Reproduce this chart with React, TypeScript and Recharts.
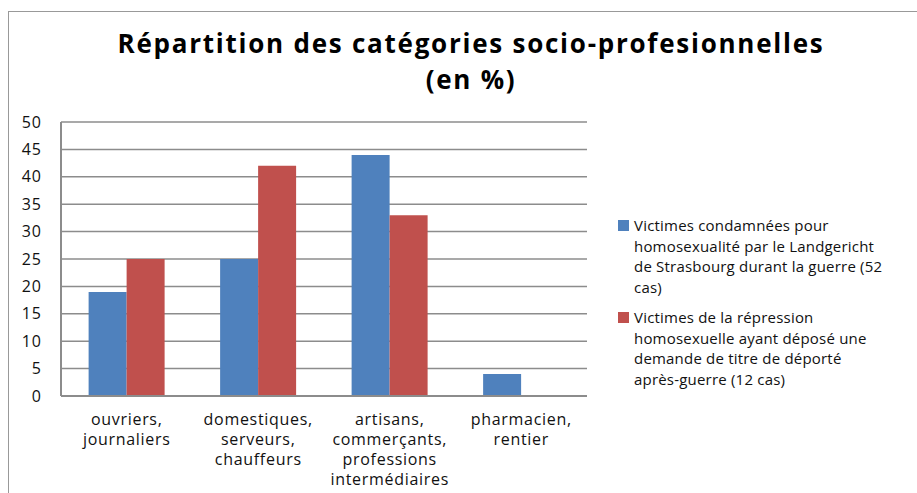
import { Bar, BarChart, CartesianGrid, Legend, XAxis, YAxis } from "recharts";

const FONT = "'Open Sans', sans-serif";

const CATEGORY_LINES = [
  ["ouvriers,", "journaliers"],
  ["domestiques,", "serveurs,", "chauffeurs"],
  ["artisans,", "commerçants,", "professions", "intermédiaires"],
  ["pharmacien,", "rentier"],
];
const CATEGORIES = CATEGORY_LINES.map((l) => l.join(" "));

const LANDGERICHT = [19, 25, 44, 4];
const APRES_GUERRE = [25, 42, 33, 0];

const Y_TICKS = [0, 5, 10, 15, 20, 25, 30, 35, 40, 45, 50];

const SERIES_LINES = [
  [
    "Victimes condamnées pour",
    "homosexualité par le Landgericht",
    "de Strasbourg durant la guerre (52",
    "cas)",
  ],
  [
    "Victimes de la répression",
    "homosexuelle ayant déposé une",
    "demande de titre de déporté",
    "après-guerre (12 cas)",
  ],
];
const SERIES_NAMES = SERIES_LINES.map((l) => l.join(" "));

const data = CATEGORIES.map((name, i) => ({
  name,
  a: LANDGERICHT[i],
  b: APRES_GUERRE[i],
}));

const GRID = "#8c8c8c";

function CategoryTick({ x, y, payload }: { x?: number; y?: number; payload?: { value: string } }) {
  const idx = CATEGORIES.indexOf(payload?.value ?? "");
  const lines = CATEGORY_LINES[idx] ?? [payload?.value ?? ""];
  return (
    <text
      textAnchor="middle"
      fontFamily={FONT}
      fontSize={16}
      letterSpacing={0.7}
      fill="#111"
    >
      {lines.map((line, i) => (
        <tspan key={i} x={x} y={(y ?? 0) + 29 + i * 20}>
          {line}
        </tspan>
      ))}
    </text>
  );
}

function LegendBox({ payload }: { payload?: Array<{ color?: string; value?: string }> }) {
  return (
    <div
      style={{
        fontFamily: FONT,
        fontSize: 15,
        letterSpacing: 0.2,
        lineHeight: "20.5px",
        color: "#111",
      }}
    >
      {(payload ?? []).map((item, i) => {
        const lines = SERIES_LINES[SERIES_NAMES.indexOf(item.value ?? "")] ?? [item.value];
        return (
          <div key={i} style={{ display: "flex", marginBottom: 10 }}>
            <div
              style={{
                width: 11,
                height: 11,
                marginTop: 5,
                marginLeft: 6,
                background: item.color,
                flex: "none",
              }}
            />
            <div style={{ marginLeft: 5, whiteSpace: "nowrap" }}>
              {lines.map((l, j) => (
                <div key={j}>{l}</div>
              ))}
            </div>
          </div>
        );
      })}
    </div>
  );
}

export default function App() {
  return (
    <div
      style={{
        position: "absolute",
        left: 0,
        top: 0,
        width: 917,
        height: 493,
        background: "#fff",
        overflow: "hidden",
      }}
    >
      <div
        style={{
          position: "absolute",
          left: 8,
          top: 11,
          width: 940,
          height: 520,
          borderLeft: "1px solid #999",
          borderTop: "1px solid #999",
        }}
      />
      <div
        style={{
          position: "absolute",
          left: 0,
          top: 25,
          width: 942,
          textAlign: "center",
          fontFamily: FONT,
          fontWeight: 700,
          fontSize: 26,
          letterSpacing: 1.75,
          lineHeight: "36px",
          color: "#000",
        }}
      >
        <div>Répartition des catégories socio-profesionnelles</div>
        <div>(en %)</div>
      </div>
      <BarChart
        width={917}
        height={493}
        data={data}
        margin={{ top: 122, right: 330, bottom: 7, left: 11 }}
        barCategoryGap="21%"
        barGap={0}
      >
        <CartesianGrid vertical={false} stroke={GRID} strokeWidth={1.5} />
        <XAxis
          dataKey="name"
          height={90}
          axisLine={{ stroke: GRID, strokeWidth: 2 }}
          tickLine={false}
          tickSize={0}
          tickMargin={0}
          interval={0}
          tick={<CategoryTick />}
        />
        <YAxis
          width={50}
          domain={[0, 50]}
          ticks={Y_TICKS}
          interval={0}
          axisLine={{ stroke: GRID, strokeWidth: 2 }}
          tickLine={false}
          tickSize={0}
          tickMargin={19}
          tick={{ fontFamily: FONT, fontSize: 16, letterSpacing: 1, fill: "#111" }}
        />
        <Legend
          layout="vertical"
          align="center"
          verticalAlign="middle"
          wrapperStyle={{ left: 612, top: 215, width: 300 }}
          content={<LegendBox />}
        />
        <Bar dataKey="a" name={SERIES_NAMES[0]} fill="#4F81BD" isAnimationActive={false} />
        <Bar dataKey="b" name={SERIES_NAMES[1]} fill="#C0504D" isAnimationActive={false} />
      </BarChart>
    </div>
  );
}
